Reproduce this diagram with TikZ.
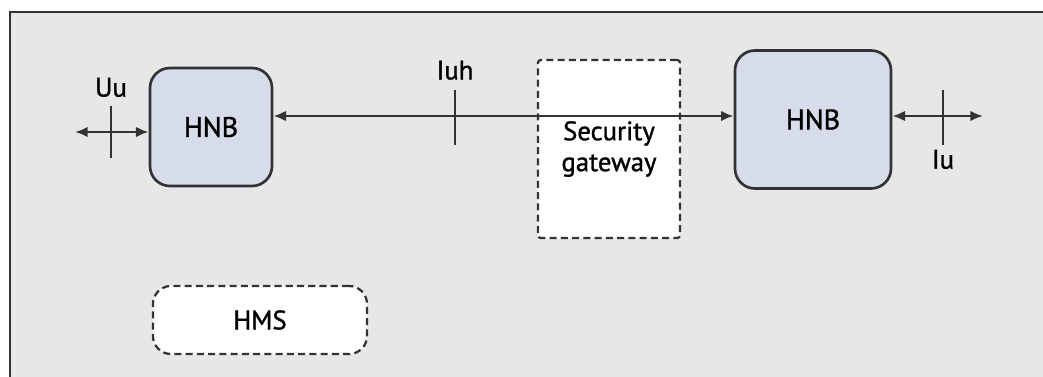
\documentclass[tikz,border=0pt]{standalone}
\usepackage{fontspec}
\setmainfont{PT Sans}[BoldFont={PT Sans}, BoldFeatures={FakeBold=1.2}]
\usetikzlibrary{arrows.meta, positioning}
\definecolor{panelgray}{HTML}{E6E7E9}
\definecolor{hnbblue}{HTML}{D6DCEA}
\definecolor{edgegray}{HTML}{333333}
\tikzset{
    hnbnode/.style = {draw=edgegray, fill=hnbblue, rectangle, rounded corners=0.5cm, 
      line width=1.9pt, font=\fontsize{20}{22}\selectfont\bfseries},
    dashnode/.style = {draw=edgegray, fill=white, rectangle, line width=1.6pt, 
      dash pattern=on 5pt off 3pt, align=center, font=\fontsize{19}{22}\selectfont\bfseries},
    textnode/.style = {draw=none, fill=none, rectangle, inner sep=0em, 
      font=\fontsize{19}{22}\selectfont\bfseries},
    connect/.style = {edgegray, line width=1.7pt, {Latex[length=9pt,width=7.5pt]}-{Latex[length=9pt,width=7.5pt]}},
    tickline/.style = {edgegray, line width=1.7pt}
}

\begin{document}
\begin{tikzpicture}[x=0.025cm, y=-0.025cm]
    \clip (0,0) rectangle (1043,376);
    \fill [white] (0,0) rectangle (1043,376);
    \draw [fill=panelgray, draw=edgegray, line width=1.8pt] (10,12) rectangle (1070,400);

    \node [name=hnbA, hnbnode, minimum width=3.05cm, minimum height=2.95cm] at (211,127) {HNB};
    \node [name=hnbB, hnbnode, minimum width=3.9cm, minimum height=3.45cm] at (813,119.5) {HNB};
    \node [name=segw, dashnode, rounded corners=2pt, minimum width=3.55cm, 
        minimum height=4.45cm] at (609,149) {Security\\gateway};
    \node [name=hms, dashnode, rounded corners=0.45cm, minimum width=5.35cm, 
        minimum height=1.7cm] at (260,320) {HMS};

    % interface points
    \coordinate (uuEnd) at (75,132);
    \coordinate (uuTick) at (111,132);
    \coordinate (iuhTick) at (455,116);
    \coordinate (iuTick) at (943,116);
    \coordinate (iuEnd) at (983,116);

    \draw [connect] (uuEnd) -- (hnbA.west |- uuEnd);
    \draw [connect] (hnbA.east |- iuhTick) -- (hnbB.west |- iuhTick);
    \draw [connect] (hnbB.east |- iuEnd) -- (iuEnd);

    \draw [tickline] ([yshift=0.65cm]uuTick) coordinate (uuTop) -- ([yshift=-0.65cm]uuTick);
    \draw [tickline] ([yshift=0.65cm]iuhTick) coordinate (iuhTop) -- ([yshift=-0.72cm]iuhTick);
    \draw [tickline] ([yshift=0.65cm]iuTick) -- ([yshift=-0.72cm]iuTick) coordinate (iuBottom);

    \node [textnode, name=uuLabel, above=0.22cm of uuTop] {Uu};
    \node [textnode, name=iuhLabel, above=0.25cm of iuhTop] {Iuh};
    \node [textnode, name=iuLabel, below=0.12cm of iuBottom] {Iu};
\end{tikzpicture}
\end{document}
